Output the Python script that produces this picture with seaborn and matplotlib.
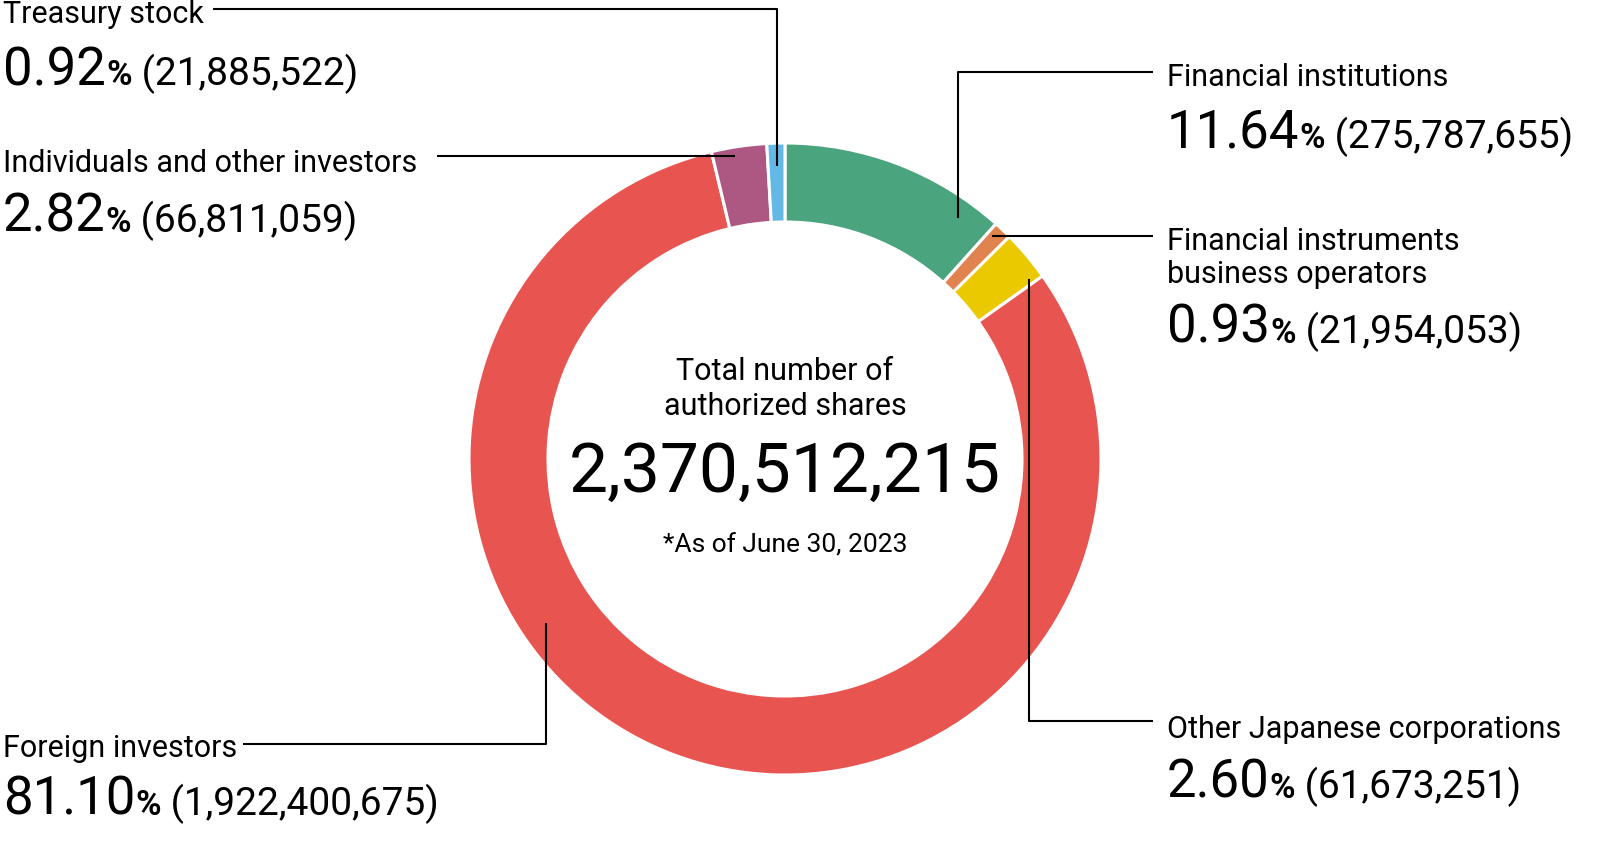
import numpy as np
import seaborn as sns
import matplotlib.pyplot as plt

sns.set_style("white")
plt.rcParams['font.family'] = ['Roboto', 'DejaVu Sans']
plt.rcParams['text.color'] = 'black'

# Shareholder composition (clockwise from top)
categories = ['Financial institutions', 'Financial instruments\nbusiness operators',
              'Other Japanese corporations', 'Foreign investors',
              'Individuals and other investors', 'Treasury stock']
percents = [11.64, 0.93, 2.60, 81.10, 2.82, 0.92]
shares = ['275,787,655', '21,954,053', '61,673,251', '1,922,400,675',
          '66,811,059', '21,885,522']
colors = ['#4aa47e', '#e0834e', '#ebc900', '#e85550', '#ad5882', '#63b8e6']
total_shares = '2,370,512,215'
as_of = '*As of June 30, 2023'

W, H = 1601, 845
fig = plt.figure(figsize=(W / 100, H / 100), dpi=100)
ax = fig.add_axes([0, 0, 1, 1])
ax.set_xlim(0, W)
ax.set_ylim(0, H)
ax.set_aspect('equal')
ax.axis('off')

cx, cy = 785, H - 460
R, ring = 316, 79
ax.pie(percents, colors=colors, startangle=90, counterclock=False,
       center=(cx, cy), radius=R,
       wedgeprops=dict(width=ring, edgecolor='white', linewidth=2.2))
ax.set_xlim(0, W)
ax.set_ylim(0, H)


def Y(y):
    return H - y


# anchor on each wedge: (fraction along wedge, radius)
anchor_spec = [(0.85, 297), (0.5, 301), (0.9, 303), (0.62, 290), (0.4, 307), (0.55, 293)]
cum = np.concatenate([[0], np.cumsum(percents)]) / sum(percents) * 360
anchors = []
for i, (f, r) in enumerate(anchor_spec):
    th = np.radians(cum[i] + f * (cum[i + 1] - cum[i]))
    anchors.append((cx + r * np.sin(th), cy + r * np.cos(th)))

# leader line routes: 'v' = vertical then horizontal, 'h' = horizontal only
routes = [('v', 73, 1153), ('h', 237, 1153), ('v', 722, 1153),
          ('v', 745, 243), ('h', 157, 437), ('v', 10, 213)]
for (ax_, ay_), (kind, ly, ex) in zip(anchors, routes):
    if kind == 'v':
        xs = [ax_, ax_, ex]
        ys = [ay_, Y(ly), Y(ly)]
    else:
        xs = [ax_, ex]
        ys = [Y(ly), Y(ly)]
    ax.plot(xs, ys, color='black', lw=1.5, solid_capstyle='butt')

renderer = fig.canvas.get_renderer()


def run_text(x, y, pieces):
    # draw text pieces one after another on a common baseline
    for s, size, weight in pieces:
        t = ax.text(x, y, s, fontsize=size, fontweight=weight, va='baseline',
                    ha='left', color='black')
        bb = t.get_window_extent(renderer=renderer)
        x += bb.width


# label layout: x, name baseline(s), value baseline
layout = [(1167, [86], 148), (1167, [250, 283], 343), (1167, [738], 798),
          (3, [757], 815), (3, [172], 232), (3, [23], 85)]
for i, (lx, name_y, val_y) in enumerate(layout):
    for line, ny in zip(categories[i].split('\n'), name_y):
        ax.text(lx, Y(ny), line, fontsize=22, va='baseline', ha='left')
    run_text(lx, Y(val_y), [(f'{percents[i]:.2f}', 38, 'normal'),
                            ('%', 25, 'bold'),
                            (f' ({shares[i]})', 28, 'normal')])

ax.text(cx, Y(380), 'Total number of', fontsize=22, ha='center', va='baseline')
ax.text(cx, Y(415), 'authorized shares', fontsize=22, ha='center', va='baseline')
ax.text(cx, Y(492), total_shares, fontsize=50, ha='center', va='baseline')
ax.text(cx, Y(553), as_of, fontsize=19, ha='center', va='baseline')

fig.savefig('out.png', dpi=100)
